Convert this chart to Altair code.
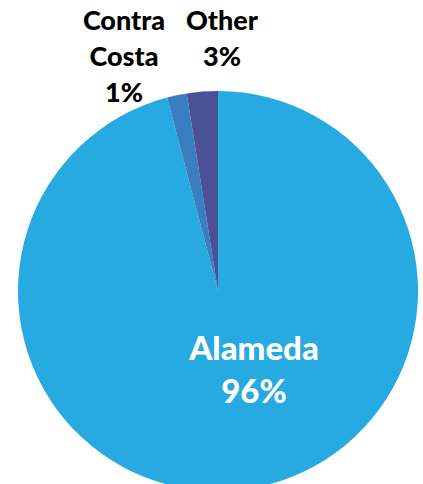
import altair as alt
import pandas as pd

categories = ["Alameda", "Contra Costa", "Other"]
shares = [95.9, 1.6, 2.5]
colors = ["#27A9E1", "#3A7EC2", "#4A5196"]

label_texts = ["Alameda\n96%", "Contra\nCosta\n1%", "Other\n3%"]
label_colors = ["#FFFFFF", "#000000", "#000000"]

df = pd.DataFrame({"county": categories, "share": shares, "order": list(range(len(categories)))})

pie = alt.Chart(df).mark_arc(radius=200, stroke=None).encode(
    theta=alt.Theta("share:Q", stack=True),
    order=alt.Order("order:Q"),
    color=alt.Color("county:N", scale=alt.Scale(domain=categories, range=colors), legend=None),
    x=alt.value(218),
    y=alt.value(291),
)

def label(i, x, y, size, lh):
    d = pd.DataFrame({"t": [label_texts[i]]})
    return alt.Chart(d).mark_text(
        lineBreak="\n", font="Lato", fontWeight=900, fontSize=size, lineHeight=lh,
        align="center", baseline="middle", color=label_colors[i]
    ).encode(text="t:N", x=alt.value(x), y=alt.value(y))

chart = alt.layer(
    pie,
    label(0, 254, 350, 33, 43),
    label(1, 124, 22, 27, 36),
    label(2, 222, 22, 27, 36),
).properties(
    width=423, height=484, padding=0, autosize=alt.AutoSizeParams(type="none")
).configure_view(stroke=None)

chart.save("out.html", embed_options={"renderer": "svg", "actions": False})
